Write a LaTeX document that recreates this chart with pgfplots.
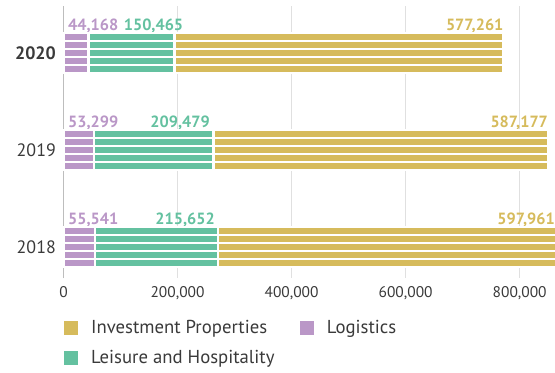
\documentclass[border=0pt]{standalone}
\usepackage{pgfplots}
\pgfplotsset{compat=1.18}
\usepackage{pgfplotstable}
\usepackage{fontspec}
\setmainfont{PT Sans}
\definecolor{cpurple}{HTML}{BA97C7}
\definecolor{cgreen}{HTML}{64C1A0}
\definecolor{cgold}{HTML}{D6BB5C}
\definecolor{cgrid}{HTML}{E0E0E0}
\definecolor{caxis}{HTML}{BDBDBD}
\definecolor{ctext}{HTML}{3A3A3A}
\pgfplotstableread{
y log lei inv
-0.1649 55541 215652 597961
-0.0825 55541 215652 597961
0.0000 55541 215652 597961
0.0825 55541 215652 597961
0.1649 55541 215652 597961
0.8351 53299 209479 587177
0.9175 53299 209479 587177
1.0000 53299 209479 587177
1.0825 53299 209479 587177
1.1649 53299 209479 587177
1.8351 44168 150465 577261
1.9175 44168 150465 577261
2.0000 44168 150465 577261
2.0825 44168 150465 577261
2.1649 44168 150465 577261
}\data
\begin{document}
\begin{tikzpicture}
\begin{axis}[
  at={(0,0)}, anchor=south west,
  scale only axis, width=491.5bp, height=272bp,
  xmin=0, xmax=862000, ymin=-0.3196, ymax=2.4845,
  xbar stacked, bar width=8bp,
  clip=false,
  axis lines*=left, axis line style={draw=none},
  major tick length=0pt,
  xtick={0,200000,400000,600000,800000},
  scaled x ticks=false,
  /pgf/number format/fixed,
  /pgf/number format/1000 sep={,},
  /pgf/number format/assume math mode=true,
  xticklabel style={anchor=north, inner sep=0pt, yshift=-8bp, font=\fontsize{15.5}{18}\selectfont, text=ctext},
  ytick={0,1,2},
  yticklabels={2018,2019,\textbf{2020}},
  yticklabel style={anchor=east, inner sep=0pt, xshift=-7.5bp, font=\fontsize{18}{21}\selectfont, text=ctext},
  xmajorgrids, grid style={color=cgrid, line width=1bp},
  extra x ticks={0}, extra x tick labels={},
  extra x tick style={grid style={color=caxis, line width=1.5bp}},
  legend image code/.code={\fill[#1] (0bp,-6.5bp) rectangle (13bp,6.5bp);},
  legend columns=2,
  legend cell align=left,
  legend style={at={(0,0)}, anchor=north west, yshift=-40bp, draw=none, fill=none, inner sep=0pt,
    font=\fontsize{18.8}{22}\selectfont, text=ctext, row sep=11.5bp,
    /tikz/every odd column/.append style={column sep=12bp},
    /tikz/every even column/.append style={column sep=23bp}},
]
\addplot[fill=cpurple, draw=white, line width=2.5bp, forget plot] table[x=log, y=y]{\data};
\addplot[fill=cgreen, draw=white, line width=2.5bp, forget plot] table[x=lei, y=y]{\data};
\addplot[fill=cgold, draw=white, line width=2.5bp, forget plot] table[x=inv, y=y]{\data};
\addlegendimage{cgold}
\addlegendentry{Investment Properties}
\addlegendimage{cpurple}
\addlegendentry{Logistics}
\addlegendimage{cgreen}
\addlegendentry{Leisure and Hospitality}
\node[anchor=base west, text=cpurple, inner sep=0pt, font=\bfseries\fontsize{16.3}{19}\selectfont, yshift=22bp] at (axis cs:7900,2) {44,168};
\node[anchor=base west, text=cgreen, inner sep=0pt, font=\bfseries\fontsize{16.3}{19}\selectfont, yshift=22bp] at (axis cs:105500,2) {150,465};
\node[anchor=base east, text=cgold, inner sep=0pt, font=\bfseries\fontsize{16.3}{19}\selectfont, yshift=22bp] at (axis cs:771894,2) {577,261};
\node[anchor=base west, text=cpurple, inner sep=0pt, font=\bfseries\fontsize{16.3}{19}\selectfont, yshift=22bp] at (axis cs:7900,1) {53,299};
\node[anchor=base east, text=cgreen, inner sep=0pt, font=\bfseries\fontsize{16.3}{19}\selectfont, yshift=22bp] at (axis cs:256900,1) {209,479};
\node[anchor=base east, text=cgold, inner sep=0pt, font=\bfseries\fontsize{16.3}{19}\selectfont, yshift=22bp] at (axis cs:849955,1) {587,177};
\node[anchor=base west, text=cpurple, inner sep=0pt, font=\bfseries\fontsize{16.3}{19}\selectfont, yshift=22bp] at (axis cs:7900,0) {55,541};
\node[anchor=base east, text=cgreen, inner sep=0pt, font=\bfseries\fontsize{16.3}{19}\selectfont, yshift=22bp] at (axis cs:265700,0) {215,652};
\node[anchor=base east, text=cgold, inner sep=0pt, font=\bfseries\fontsize{16.3}{19}\selectfont, yshift=22bp] at (axis cs:862000,0) {597,961};
\end{axis}
\pgfresetboundingbox
\path (-63.5bp,-95bp) rectangle (491.5bp,278bp);
\end{tikzpicture}
\end{document}
